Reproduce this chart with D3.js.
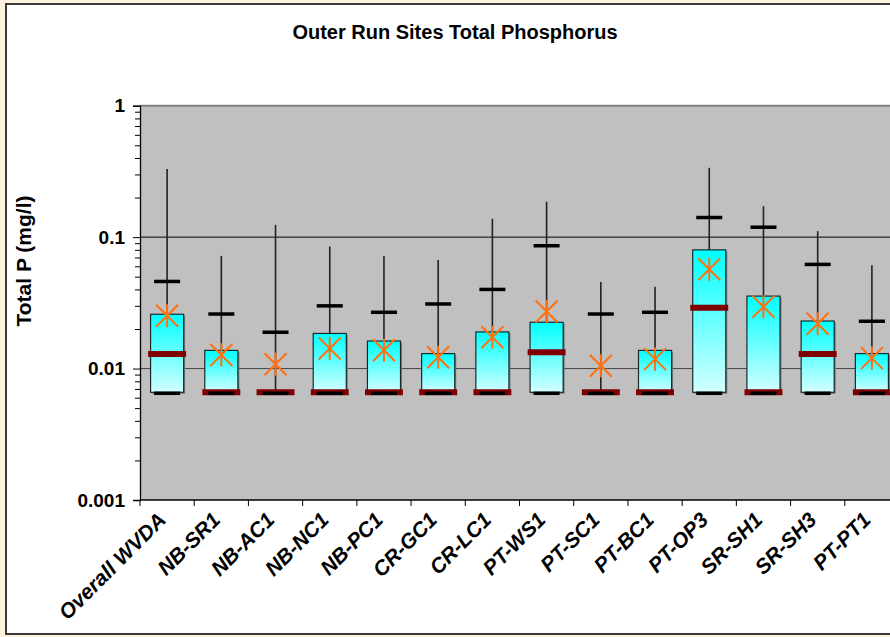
<!DOCTYPE html>
<html>
<head>
<meta charset="utf-8">
<script src="https://cdn.jsdelivr.net/npm/d3@7"></script>
<style>
  html, body { margin: 0; padding: 0; background: #FEF2DC; }
  svg { display: block; font-family: Arial, "Liberation Sans", sans-serif; }
</style>
</head>
<body>
<div id="chart"></div>
<script>
// Sites along the x axis
const categories = ["Overall WVDA", "NB-SR1", "NB-AC1", "NB-NC1", "NB-PC1", "CR-GC1", "CR-LC1",
  "PT-WS1", "PT-SC1", "PT-BC1", "PT-OP3", "SR-SH1", "SR-SH3", "PT-PT1"];

// Total P statistics (mg/l)
const maxVals  = [0.33, 0.072, 0.124, 0.085, 0.072, 0.067, 0.138, 0.186, 0.0455, 0.042, 0.337, 0.172, 0.111, 0.061];
const p90Vals  = [0.046, 0.026, 0.0189, 0.030, 0.0268, 0.031, 0.040, 0.086, 0.026, 0.0268, 0.141, 0.119, 0.062, 0.0229];
const q3Vals   = [0.0259, 0.01375, 0.0066, 0.0185, 0.0162, 0.0130, 0.0190, 0.0225, 0.0066, 0.01375, 0.080, 0.0356, 0.023, 0.0130];
const meanVals = [0.0252, 0.0127, 0.0108, 0.0142, 0.0138, 0.0122, 0.0173, 0.0272, 0.0105, 0.0118, 0.057, 0.0295, 0.0219, 0.0120];
const medVals  = [0.0129, 0.0066, 0.0066, 0.0066, 0.0066, 0.0066, 0.0066, 0.0133, 0.0066, 0.0066, 0.029, 0.0066, 0.0129, 0.0066];
const q1Vals   = [0.0066, 0.0066, 0.0066, 0.0066, 0.0066, 0.0066, 0.0066, 0.0066, 0.0066, 0.0066, 0.0066, 0.0066, 0.0066, 0.0066];
const p10Vals  = [0.0066, 0.0066, 0.0066, 0.0066, 0.0066, 0.0066, 0.0066, 0.0066, 0.0066, 0.0066, 0.0066, 0.0066, 0.0066, 0.0066];
const minVals  = [0.0066, 0.0066, 0.0066, 0.0066, 0.0066, 0.0066, 0.0066, 0.0066, 0.0066, 0.0066, 0.0066, 0.0066, 0.0066, 0.0066];

// Y axis ticks
const majorTicks = [0.001, 0.01, 0.1, 1];
const gridTicks = [0.01, 0.1];

const data = categories.map((c, i) => ({
  site: c, max: maxVals[i], p90: p90Vals[i], q3: q3Vals[i], mean: meanVals[i],
  median: medVals[i], q1: q1Vals[i], p10: p10Vals[i], min: minVals[i]
}));

const W = 890, H = 637;
const plot = { left: 140, right: 899, top: 105.7, bottom: 500 };

const svg = d3.select("#chart").append("svg")
  .attr("width", W)
  .attr("height", H);

// chart area frame
svg.append("rect")
  .attr("x", 6).attr("y", 4)
  .attr("width", 900).attr("height", 630)
  .attr("fill", "#fff")
  .attr("stroke", "#3a3a3a")
  .attr("stroke-width", 2);

const defs = svg.append("defs");
const grad = defs.append("linearGradient")
  .attr("id", "boxFill")
  .attr("x1", 0).attr("y1", 0).attr("x2", 0).attr("y2", 1);
grad.append("stop").attr("offset", "0%").attr("stop-color", "#00FFFF");
grad.append("stop").attr("offset", "100%").attr("stop-color", "#D4FFFF");

// Scales
const x = d3.scaleBand()
  .domain(categories)
  .range([plot.left, plot.right])
  .padding(0);

const y = d3.scaleLog()
  .domain([0.001, 1])
  .range([plot.bottom, plot.top]);

const bw = x.bandwidth();
const cx = d => x(d.site) + bw / 2;

// plot background
svg.append("rect")
  .attr("x", plot.left).attr("y", plot.top)
  .attr("width", plot.right - plot.left)
  .attr("height", plot.bottom - plot.top)
  .attr("fill", "#C0C0C0");

svg.append("line")
  .attr("x1", plot.left).attr("x2", plot.right)
  .attr("y1", plot.top).attr("y2", plot.top)
  .attr("stroke", "#808080")
  .attr("stroke-width", 2);

// gridlines
svg.append("g")
  .selectAll("line")
  .data(gridTicks)
  .join("line")
  .attr("x1", plot.left).attr("x2", plot.right)
  .attr("y1", d => y(d)).attr("y2", d => y(d))
  .attr("stroke", d => d === 0.1 ? "#000" : "#444")
  .attr("stroke-width", 1);

// whiskers
svg.append("g")
  .selectAll("line")
  .data(data)
  .join("line")
  .attr("x1", cx).attr("x2", cx)
  .attr("y1", d => y(d.max)).attr("y2", d => y(d.min))
  .attr("stroke", "#222")
  .attr("stroke-width", 1.6);

// boxes (with a soft shadow)
const boxW = bw * 0.61;
const boxes = svg.append("g");
boxes.selectAll("rect.shadow")
  .data(data.filter(d => d.q3 > d.q1))
  .join("rect")
  .attr("class", "shadow")
  .attr("x", d => cx(d) - boxW / 2 + 1.5)
  .attr("y", d => y(d.q3) + 1.5)
  .attr("width", boxW)
  .attr("height", d => y(d.q1) - y(d.q3))
  .attr("fill", "#6f7f7f");
boxes.selectAll("rect.box")
  .data(data.filter(d => d.q3 > d.q1))
  .join("rect")
  .attr("class", "box")
  .attr("x", d => cx(d) - boxW / 2)
  .attr("y", d => y(d.q3))
  .attr("width", boxW)
  .attr("height", d => y(d.q1) - y(d.q3))
  .attr("fill", "url(#boxFill)")
  .attr("stroke", "#1a2a2a")
  .attr("stroke-width", 1.2);

// 90th percentile dashes
const dashW = bw * 0.48;
svg.append("g")
  .selectAll("line")
  .data(data)
  .join("line")
  .attr("x1", d => cx(d) - dashW / 2).attr("x2", d => cx(d) + dashW / 2)
  .attr("y1", d => y(d.p90)).attr("y2", d => y(d.p90))
  .attr("stroke", "#000")
  .attr("stroke-width", 3.5);

// medians
const medW = bw * 0.7;
svg.append("g")
  .selectAll("line")
  .data(data)
  .join("line")
  .attr("x1", d => cx(d) - medW / 2).attr("x2", d => cx(d) + medW / 2)
  .attr("y1", d => y(d.median)).attr("y2", d => y(d.median))
  .attr("stroke", "#800000")
  .attr("stroke-width", 6);

// 10th percentile dashes
svg.append("g")
  .selectAll("line")
  .data(data)
  .join("line")
  .attr("x1", d => cx(d) - dashW / 2).attr("x2", d => cx(d) + dashW / 2)
  .attr("y1", d => y(d.p10) + 1).attr("y2", d => y(d.p10) + 1)
  .attr("stroke", "#000")
  .attr("stroke-width", 3.5);

// means as asterisks
const s = 11;
const star = `M${-s},${-s}L${s},${s}M${-s},${s}L${s},${-s}M0,${-s * 1.05}L0,${s * 1.05}`;
svg.append("g")
  .selectAll("path")
  .data(data)
  .join("path")
  .attr("transform", d => `translate(${cx(d)},${y(d.mean)})`)
  .attr("d", star)
  .attr("fill", "none")
  .attr("stroke", "#FF7010")
  .attr("stroke-width", 2);

// Y axis
const minorTicks = [];
[0.001, 0.01, 0.1].forEach(dec => {
  for (let k = 2; k <= 9; k++) minorTicks.push(dec * k);
});

svg.append("g")
  .attr("transform", `translate(${plot.left},0)`)
  .call(d3.axisLeft(y).tickValues(minorTicks).tickSize(5).tickFormat(""))
  .call(g => g.select(".domain").remove());

const yAxis = svg.append("g")
  .attr("transform", `translate(${plot.left},0)`)
  .call(d3.axisLeft(y).tickValues(majorTicks).tickSize(7).tickPadding(8)
    .tickFormat(d3.format("~g")));
yAxis.select(".domain").attr("stroke", "#000").attr("stroke-width", 1.3);
yAxis.selectAll("text")
  .style("font-size", "19px")
  .style("font-weight", "bold")
  .attr("fill", "#000");

// X axis
svg.append("line")
  .attr("x1", plot.left).attr("x2", plot.right)
  .attr("y1", plot.bottom).attr("y2", plot.bottom)
  .attr("stroke", "#000")
  .attr("stroke-width", 1.3);

svg.append("g")
  .selectAll("line")
  .data(categories)
  .join("line")
  .attr("x1", d => x(d)).attr("x2", d => x(d))
  .attr("y1", plot.bottom).attr("y2", plot.bottom + 6)
  .attr("stroke", "#000");

svg.append("g")
  .selectAll("text")
  .data(categories)
  .join("text")
  .attr("transform", d => `translate(${x(d) + bw / 2 - 5},${plot.bottom + 16}) rotate(-45)`)
  .attr("text-anchor", "end")
  .attr("dy", "0.35em")
  .style("font-size", "21px")
  .style("font-weight", "bold")
  .style("font-style", "italic")
  .text(d => d);

// Axis title
svg.append("text")
  .attr("transform", "rotate(-90)")
  .attr("x", -261)
  .attr("y", 31)
  .attr("text-anchor", "middle")
  .style("font-size", "21px")
  .style("font-weight", "bold")
  .text("Total P (mg/l)");

// Title
svg.append("text")
  .attr("x", 455)
  .attr("y", 39)
  .attr("text-anchor", "middle")
  .style("font-size", "20px")
  .style("font-weight", "bold")
  .text("Outer Run Sites Total Phosphorus");
</script>
</body>
</html>
